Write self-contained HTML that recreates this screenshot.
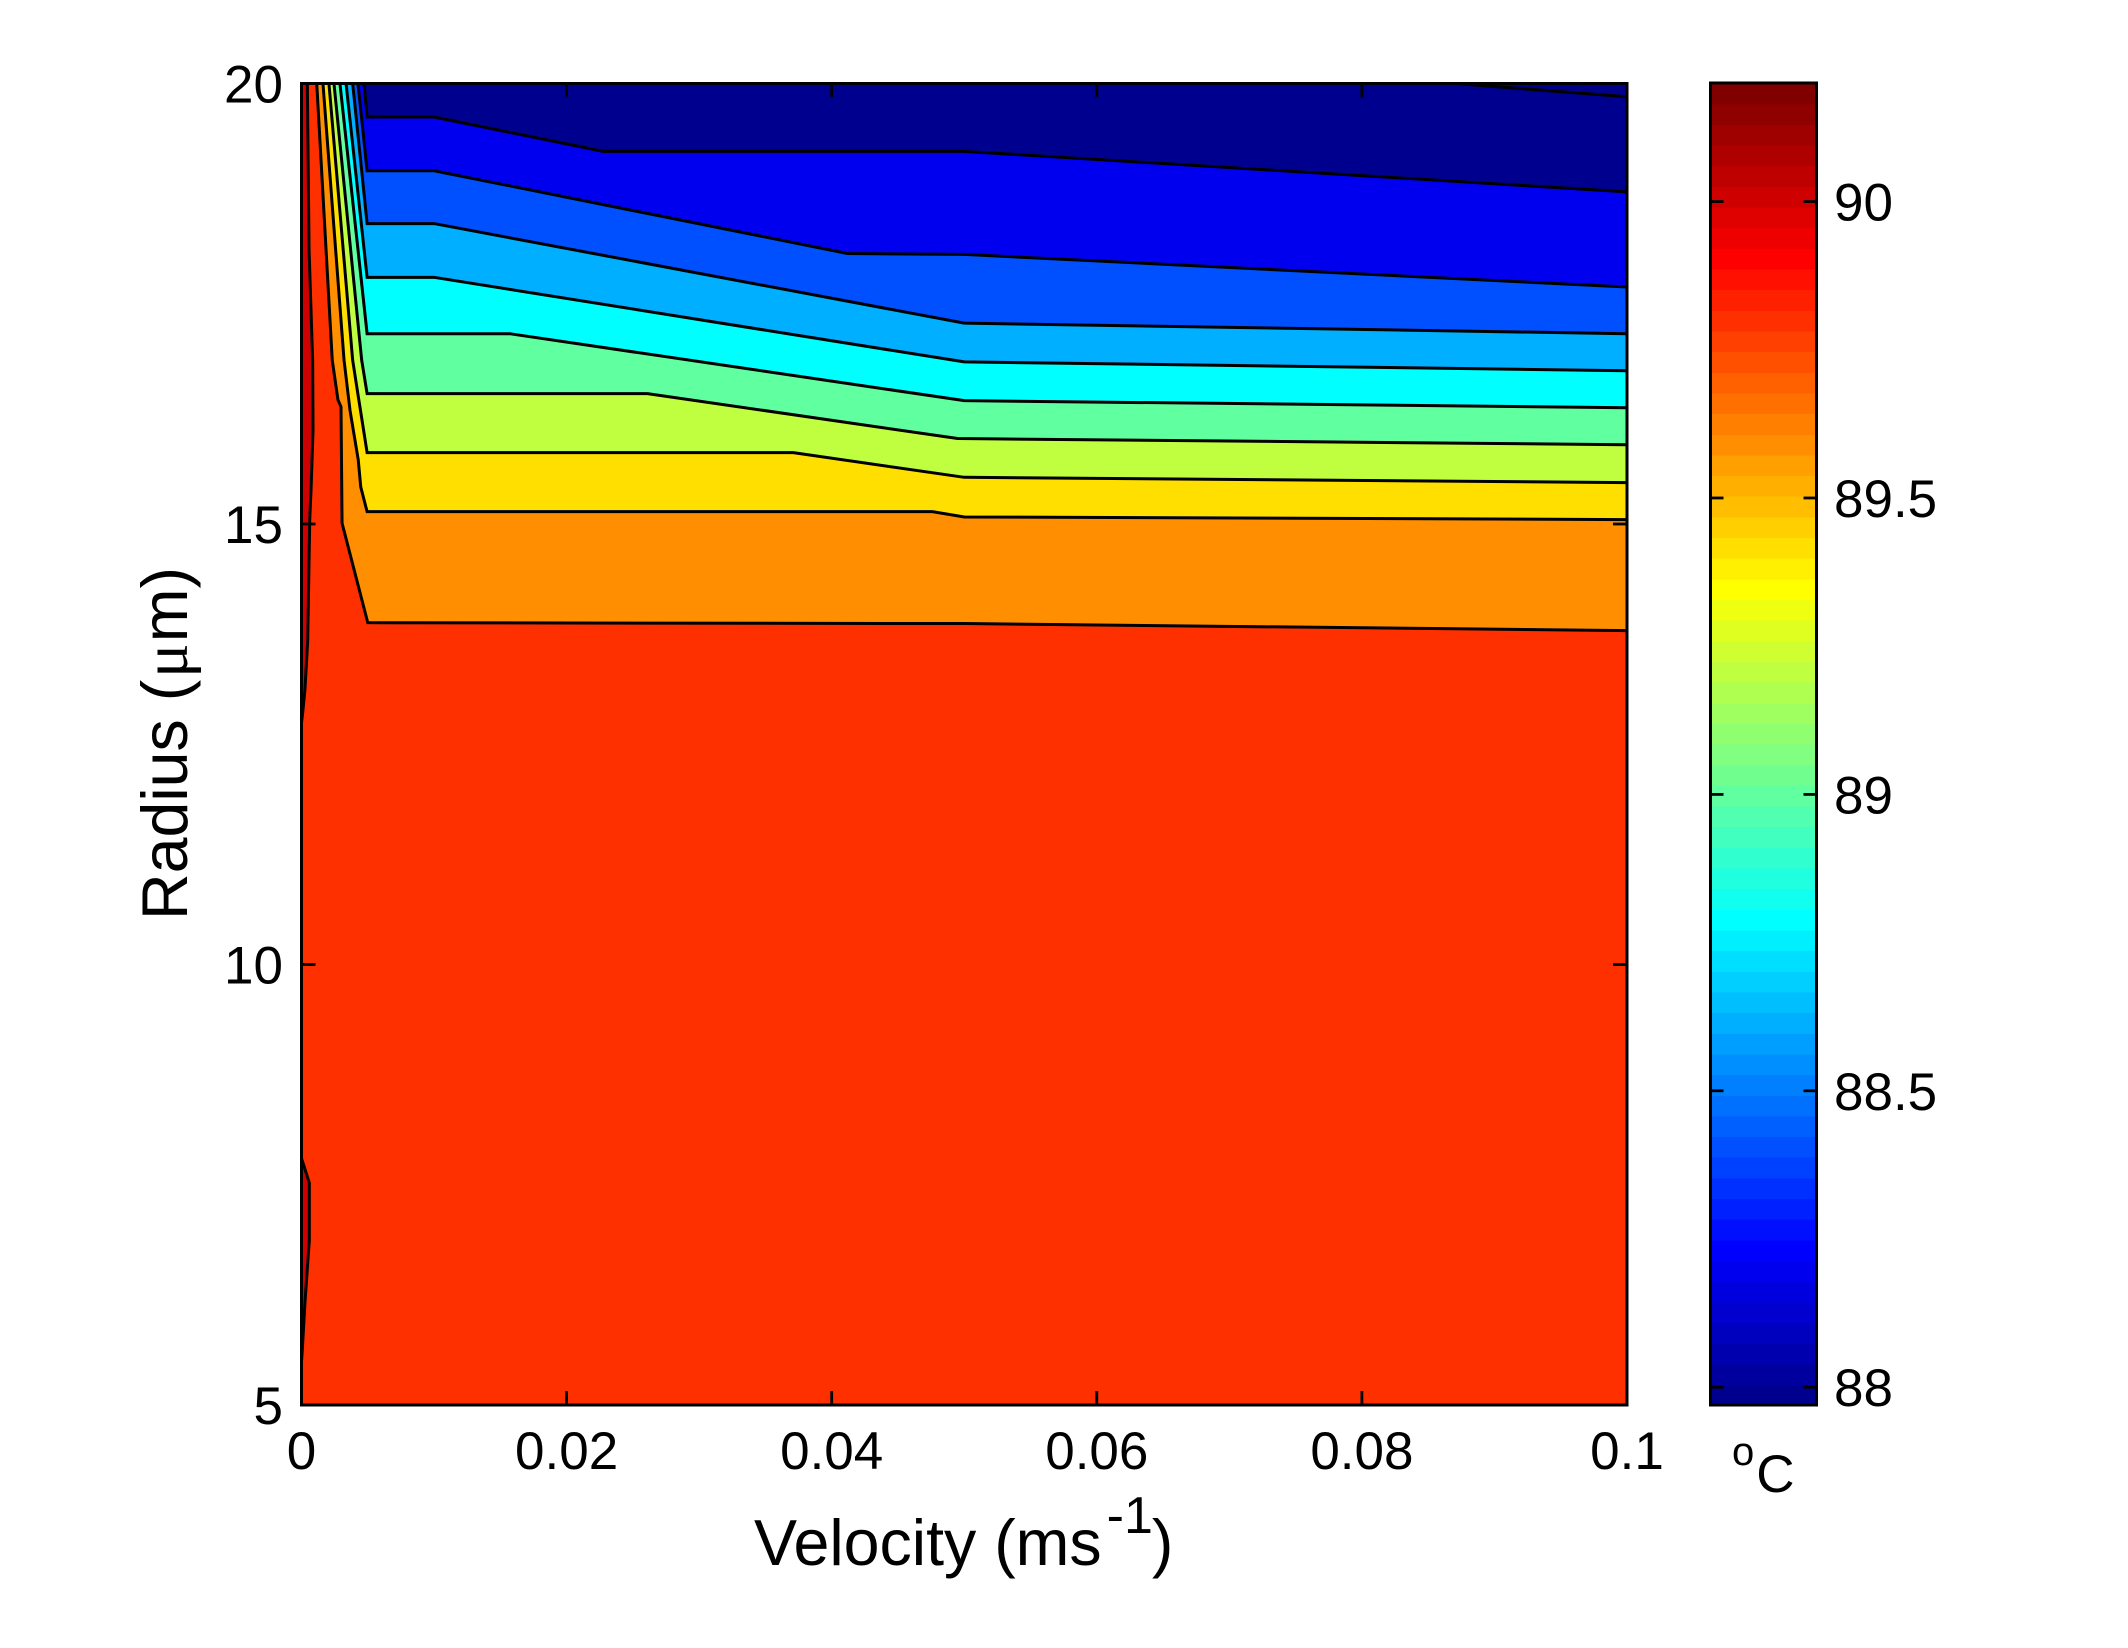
<!DOCTYPE html>
<html lang="en">
<head>
<meta charset="utf-8">
<title>Temperature contour of radius vs velocity</title>
<style>
html,body{margin:0;padding:0;background:#fff;}
svg{display:block;font-family:"Liberation Sans",Arial,sans-serif;fill:#000;}
</style>
</head>
<body>
<svg id="chart" xmlns="http://www.w3.org/2000/svg" width="2128" height="1648" viewBox="0 0 2128 1648">
  <rect x="0" y="0" width="2128" height="1648" fill="#fff"/>
  <defs><clipPath id="plot-clip"><rect x="301.5" y="83.5" width="1325.5" height="1321.5"/></clipPath></defs>
  <g id="bands" clip-path="url(#plot-clip)" shape-rendering="crispEdges"></g>
  <g id="lines" clip-path="url(#plot-clip)"></g>
  <g id="axes"></g>
  <g id="colorbar"></g>
  <text x="754" y="1565" font-size="64.5">Velocity (ms<tspan font-size="52" dy="-32" dx="5">-1</tspan><tspan dy="32" dx="-1">)</tspan></text>
  <text transform="translate(187,920) rotate(-90)" font-size="64.5">Radius (<tspan font-family="'Liberation Serif',serif" dx="2">μ</tspan><tspan dx="1">m)</tspan></text>
  <text x="1732" y="1492" font-size="53"><tspan font-size="40" dy="-27">o</tspan><tspan dy="27" dx="2">C</tspan></text>
</svg>
<script>
// Axis domains
const xDomain = [0, 0.1];
const yDomain = [5, 20];
const colorDomain = [87.97, 90.2];

// Tick values and labels
const xTickValues = [0, 0.02, 0.04, 0.06, 0.08, 0.1];
const xTickLabels = ['0', '0.02', '0.04', '0.06', '0.08', '0.1'];
const yTickValues = [5, 10, 15, 20];
const yTickLabels = ['5', '10', '15', '20'];
const colorTickValues = [88, 88.5, 89, 89.5, 90];
const colorTickLabels = ['88', '88.5', '89', '89.5', '90'];

// Contour boundaries: velocity and radius
const contour9V = [0.00115, 0.00232, 0.00275, 0.00298, 0.00306, 0.005, 0.05, 0.1];
const contour9R = [20, 16.86, 16.41, 16.33, 15.01, 13.88, 13.87, 13.79];
const contour8V = [0.00162, 0.00321, 0.00366, 0.00428, 0.00447, 0.00495, 0.0476, 0.05, 0.1];
const contour8R = [20, 16.86, 16.29, 15.73, 15.42, 15.14, 15.14, 15.08, 15.05];
const contour7V = [0.00207, 0.00386, 0.00424, 0.00495, 0.0371, 0.05, 0.1];
const contour7R = [20, 16.86, 16.49, 15.81, 15.81, 15.53, 15.47];
const contour6V = [0.00245, 0.00454, 0.00495, 0.0261, 0.0495, 0.1];
const contour6R = [20, 16.86, 16.48, 16.48, 15.97, 15.90];
const contour5V = [0.0029, 0.00495, 0.0157, 0.05, 0.1];
const contour5R = [20, 17.16, 17.16, 16.40, 16.32];
const contour4V = [0.00336, 0.00495, 0.01, 0.05, 0.1];
const contour4R = [20, 17.80, 17.80, 16.84, 16.74];
const contour3V = [0.00386, 0.00495, 0.01, 0.05, 0.1];
const contour3R = [20, 18.41, 18.41, 17.28, 17.16];
const contour2V = [0.00426, 0.00495, 0.01, 0.0412, 0.05, 0.1];
const contour2R = [20, 19.01, 19.01, 18.07, 18.06, 17.69];
const contour1V = [0.00472, 0.00495, 0.01, 0.02275, 0.05, 0.1];
const contour1R = [20, 19.62, 19.62, 19.23, 19.23, 18.77];
const contour0V = [0.087, 0.1];
const contour0R = [20, 19.85];

// Hot wedges along the left edge
const hotTopV = [0.00044, 0.00057, 0.00084, 0.00087, 0.00072, 0.00062, 0.00047, 0.00026, 0.00009, 0];
const hotTopR = [20, 18.11, 16.86, 16.07, 15.39, 15.05, 13.68, 13.12, 12.86, 12.74];
const hotLowV = [0, 0.00059, 0.00059, 0.00026, 0.00006, 0];
const hotLowR = [7.80, 7.52, 6.87, 6.16, 5.63, 5.49];

// Band colours, hottest to coldest
const baseColor = '#ff3000';
const hotColor = '#cf0000';
const bandColors = ['#ff8f00', '#ffdf00', '#bfff40', '#60ff9f', '#00ffff', '#00afff', '#0050ff', '#0000ef', '#00008f', '#000088'];

const plotLeft = 301.5, plotRight = 1627, plotTop = 83.5, plotBottom = 1405;
const barLeft = 1710.5, barRight = 1816.5, barTop = 83, barBottom = 1405;
const NS = 'http://www.w3.org/2000/svg';

function xScale(v) { return plotLeft + (v - xDomain[0]) / (xDomain[1] - xDomain[0]) * (plotRight - plotLeft); }
function yScale(r) { return plotBottom - (r - yDomain[0]) / (yDomain[1] - yDomain[0]) * (plotBottom - plotTop); }
function cScale(t) { return barBottom - (t - colorDomain[0]) / (colorDomain[1] - colorDomain[0]) * (barBottom - barTop); }
function pointString(vs, rs) { return vs.map(function (v, i) { return xScale(v).toFixed(2) + ',' + yScale(rs[i]).toFixed(2); }); }
function make(tag, parent) { const el = document.createElementNS(NS, tag); parent.appendChild(el); return el; }

const bandLayer = document.getElementById('bands');
const lineLayer = document.getElementById('lines');
const axesLayer = document.getElementById('axes');
const barLayer = document.getElementById('colorbar');

// Base region
const baseBand = make('polygon', bandLayer);


baseBand.setAttribute('points', pointString([xDomain[0], xDomain[1], xDomain[1], xDomain[0]], [yDomain[0], yDomain[0], yDomain[1], yDomain[1]]).join(' '));
baseBand.setAttribute('fill', baseColor);

const contourV = [contour9V, contour8V, contour7V, contour6V, contour5V, contour4V, contour3V, contour2V, contour1V, contour0V];
const contourR = [contour9R, contour8R, contour7R, contour6R, contour5R, contour4R, contour3R, contour2R, contour1R, contour0R];

contourV.forEach(function (vs, k) {
  const pts = pointString(vs, contourR[k]);
  const band = make('polygon', bandLayer);
  
  
  band.setAttribute('points', pts.concat([xScale(xDomain[1]) + ',' + yScale(yDomain[1])]).join(' '));
  band.setAttribute('fill', bandColors[k]);
});

// Hot wedges
const hotTop = make('polygon', bandLayer);


hotTop.setAttribute('points', pointString(hotTopV, hotTopR).concat([xScale(xDomain[0]) + ',' + yScale(yDomain[1])]).join(' '));
hotTop.setAttribute('fill', hotColor);

const hotLow = make('polygon', bandLayer);


hotLow.setAttribute('points', pointString(hotLowV, hotLowR).join(' '));
hotLow.setAttribute('fill', hotColor);

// Contour lines
contourV.concat([hotTopV, hotLowV]).forEach(function (vs, k) {
  const rs = contourR.concat([hotTopR, hotLowR])[k];
  const line = make('polyline', lineLayer);
  
  
  line.setAttribute('points', pointString(vs, rs).join(' '));
  line.setAttribute('fill', 'none');
  line.setAttribute('stroke', '#000');
  line.setAttribute('stroke-width', '3');
  line.setAttribute('stroke-linejoin', 'miter');
});

function addLine(parent, x1, y1, x2, y2, width) {
  const l = make('line', parent);
  l.setAttribute('x1', x1);
  l.setAttribute('y1', y1);
  l.setAttribute('x2', x2);
  l.setAttribute('y2', y2);
  l.setAttribute('stroke', '#000');
  l.setAttribute('stroke-width', width);
  return l;
}
function addText(parent, x, y, str, anchor) {
  const t = make('text', parent);
  t.setAttribute('x', x);
  t.setAttribute('y', y);
  t.setAttribute('font-size', '53');
  t.setAttribute('text-anchor', anchor);
  t.textContent = str;
  return t;
}

// X ticks
xTickValues.forEach(function (v, i) {
  const px = xScale(v);
  const tickB = addLine(axesLayer, px, plotBottom, px, plotBottom - 14, 2.8);
  
  
  const tickT = addLine(axesLayer, px, plotTop, px, plotTop + 14, 2.8);
  
  
  const label = addText(axesLayer, px, 1469, xTickLabels[i], 'middle');
  
  
});

// Y ticks
yTickValues.forEach(function (r, i) {
  const py = yScale(r);
  const tickL = addLine(axesLayer, plotLeft, py, plotLeft + 14, py, 2.8);
  
  
  const tickR = addLine(axesLayer, plotRight, py, plotRight - 14, py, 2.8);
  
  
  const label = addText(axesLayer, 283, py + 19, yTickLabels[i], 'end');
  
  
});

// Plot frame
const frame = make('rect', axesLayer);


frame.setAttribute('x', plotLeft);
frame.setAttribute('y', plotTop);
frame.setAttribute('width', plotRight - plotLeft);
frame.setAttribute('height', plotBottom - plotTop);
frame.setAttribute('fill', 'none');
frame.setAttribute('stroke', '#000');
frame.setAttribute('stroke-width', '3');

// Colour bar: 64-step jet colormap
function jet(i) {
  const t = (i + 1) / 64 * 4;
  const ch = function (c) { return Math.round(255 * Math.max(0, Math.min(1, 1.5 - Math.abs(t - c)))); };
  return 'rgb(' + ch(3) + ',' + ch(2) + ',' + ch(1) + ')';
}
for (let i = 0; i < 64; i++) {
  const h = (barBottom - barTop) / 64;
  const cell = make('rect', barLayer);
  
  
  cell.setAttribute('x', barLeft);
  cell.setAttribute('y', (barBottom - (i + 1) * h).toFixed(2));
  cell.setAttribute('width', barRight - barLeft);
  cell.setAttribute('height', (h + 0.6).toFixed(2));
  cell.setAttribute('fill', jet(i));
  cell.setAttribute('shape-rendering', 'crispEdges');
}
colorTickValues.forEach(function (t, i) {
  const py = cScale(t);
  const tickL = addLine(barLayer, barLeft, py, barLeft + 13, py, 2.8);
  
  
  const tickR = addLine(barLayer, barRight, py, barRight - 13, py, 2.8);
  
  
  const label = addText(barLayer, 1834, py + 19, colorTickLabels[i], 'start');
  
  
});
const barFrame = make('rect', barLayer);


barFrame.setAttribute('x', barLeft);
barFrame.setAttribute('y', barTop);
barFrame.setAttribute('width', barRight - barLeft);
barFrame.setAttribute('height', barBottom - barTop);
barFrame.setAttribute('fill', 'none');
barFrame.setAttribute('stroke', '#000');
barFrame.setAttribute('stroke-width', '3');
</script>
</body>
</html>
